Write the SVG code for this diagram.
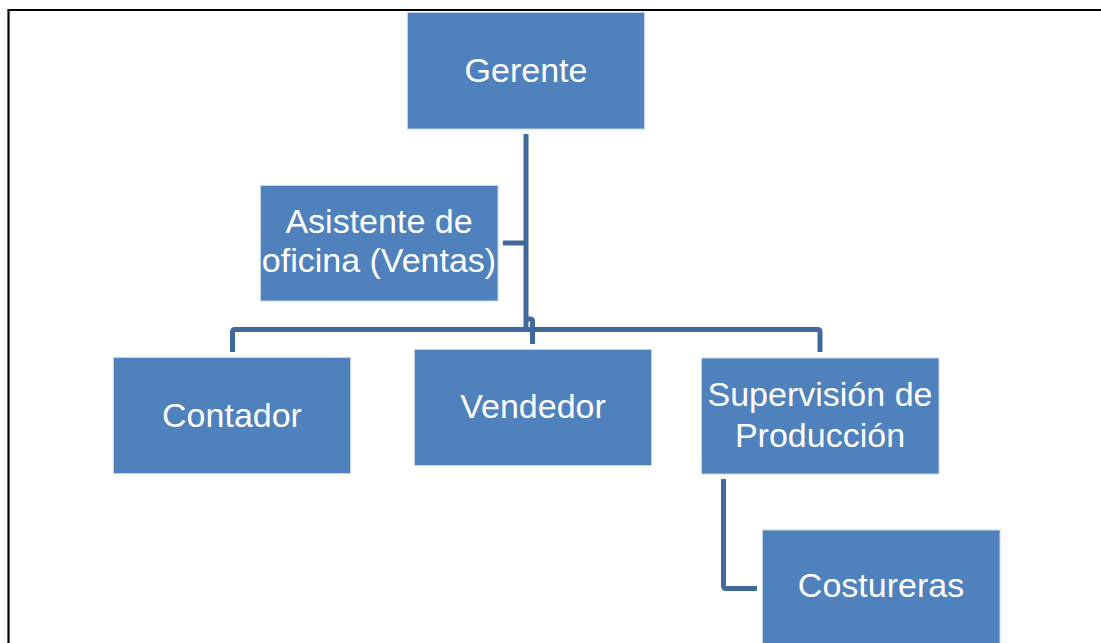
<svg xmlns="http://www.w3.org/2000/svg" width="1101" height="643" viewBox="0 0 1101 643">
<style>
.box{fill:#4f81bd;stroke:#c6d5ea;stroke-width:1}
.lbl{fill:#ffffff;font-family:"Liberation Sans",Arial,sans-serif;font-size:34px;text-anchor:middle}
.conn{fill:none;stroke:#41699b;stroke-width:5}
</style>
<rect width="1101" height="643" fill="#ffffff"/>
<path d="M8.5,643 V10 H1101" fill="none" stroke="#000000" stroke-width="2.2"/>
<g id="connectors">
<path class="conn" d="M526,134 V329.5"/>
<path class="conn" d="M503,243 H526"/>
<path class="conn" d="M232.5,352 V332 Q232.5,329.5 235,329.5 H817.5 Q820,329.5 820,332 V352"/>
<path class="conn" d="M526,319 H530 Q532.5,319 532.5,321.5 V344"/>
<path class="conn" d="M723.5,479 V586 Q723.5,588.5 726,588.5 H757"/>
</g>
<g id="gerente">
<rect class="box" x="407.5" y="12.5" width="237" height="116.5"/>
<text class="lbl" x="526" y="82">Gerente</text>
</g>
<g id="asistente">
<rect class="box" x="260.5" y="185.5" width="237.5" height="115.5"/>
<text class="lbl" x="379" y="233">Asistente de</text>
<text class="lbl" x="379" y="272">oficina (Ventas)</text>
</g>
<g id="contador">
<rect class="box" x="113.5" y="357.5" width="237" height="116"/>
<text class="lbl" x="232" y="427">Contador</text>
</g>
<g id="vendedor">
<rect class="box" x="414.5" y="349.5" width="237" height="116"/>
<text class="lbl" x="533" y="418">Vendedor</text>
</g>
<g id="supervision">
<rect class="box" x="701.5" y="358" width="237.5" height="116"/>
<text class="lbl" x="820" y="406">Supervisión de</text>
<text class="lbl" x="820" y="447">Producción</text>
</g>
<g id="costureras">
<rect class="box" x="762.5" y="530" width="237.5" height="130"/>
<text class="lbl" x="881" y="597">Costureras</text>
</g>
</svg>
